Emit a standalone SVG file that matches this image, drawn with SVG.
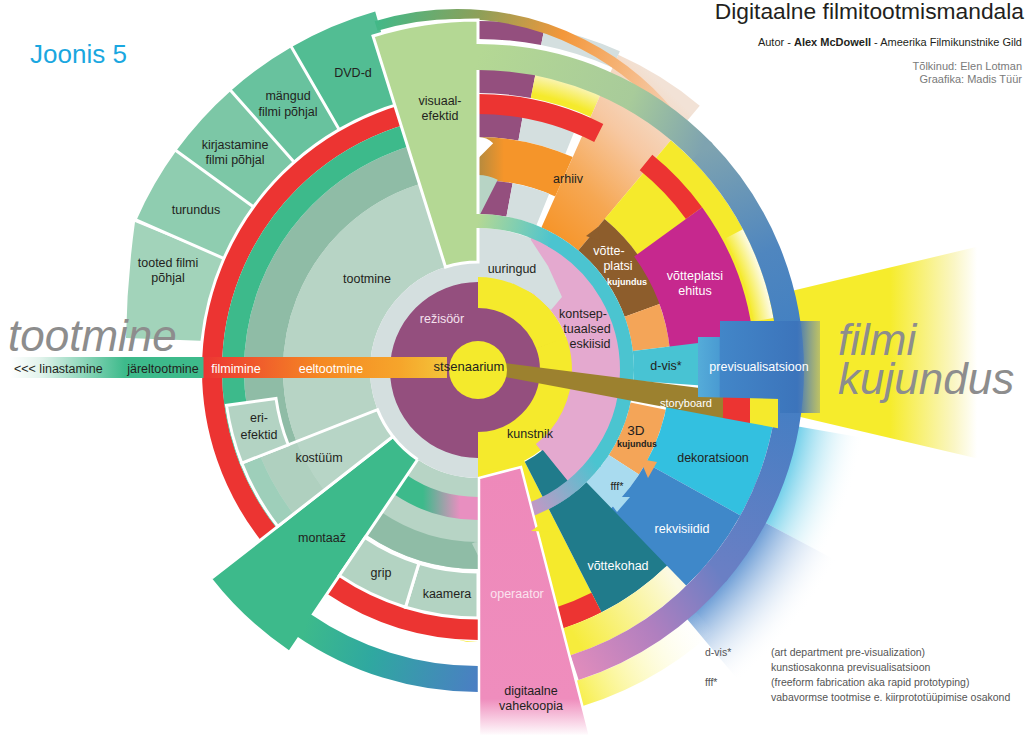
<svg xmlns="http://www.w3.org/2000/svg" width="1035" height="736" viewBox="0 0 1035 736">
<defs>
<style>
text{font-family:"Liberation Sans",Arial,Helvetica,sans-serif;font-size:12.5px;fill:#231f20;text-anchor:middle}
.k{fill:none}
.wl{stroke:#fff;stroke-width:3;fill:none}
.bd{stroke:#fff;stroke-width:3}
.wt{fill:#fff}
.big{font-size:44px;font-style:italic;fill:#8d8d8d;text-anchor:start}
.lg{font-size:10.5px;fill:#555;text-anchor:start}
.cr{font-size:11px;fill:#7a7a7a;text-anchor:end}
.sm{font-size:9px;font-weight:bold}
</style>
<linearGradient id="gYw" gradientUnits="userSpaceOnUse" x1="745" y1="0" x2="1035" y2="0">
<stop offset="0" stop-color="#f6ec2c"/><stop offset="0.5" stop-color="#f6ec2c"/><stop offset="0.72" stop-color="#faf6c4"/><stop offset="0.8" stop-color="#fff"/>
</linearGradient>
<radialGradient id="gFadeC" gradientUnits="userSpaceOnUse" cx="0" cy="0" r="400">
<stop offset="0.79" stop-color="#49c2e4"/><stop offset="0.98" stop-color="#fff" stop-opacity="0"/>
</radialGradient>
<radialGradient id="gFadeB" gradientUnits="userSpaceOnUse" cx="0" cy="0" r="410">
<stop offset="0.77" stop-color="#4a86cc"/><stop offset="0.99" stop-color="#fff" stop-opacity="0"/>
</radialGradient>
<linearGradient id="gArh" gradientUnits="userSpaceOnUse" x1="70" y1="-140" x2="200" y2="-270">
<stop offset="0" stop-color="#f6952a"/><stop offset="0.3" stop-color="#f6a752"/><stop offset="0.65" stop-color="#f7c8a2"/><stop offset="1" stop-color="#f2e2d6"/>
</linearGradient>
<linearGradient id="gSp" gradientUnits="userSpaceOnUse" x1="-105" y1="-357" x2="212" y2="-243">
<stop offset="0" stop-color="#3dba8b"/><stop offset="0.3" stop-color="#8e9f58"/><stop offset="0.55" stop-color="#f3973a"/><stop offset="0.8" stop-color="#f6bb88"/><stop offset="1" stop-color="#f2d9c6"/>
</linearGradient>
<linearGradient id="gOr" gradientUnits="userSpaceOnUse" x1="0" y1="0" x2="26" y2="0">
<stop offset="0" stop-color="#b48a3e"/><stop offset="1" stop-color="#f5952a"/>
</linearGradient>
<radialGradient id="gY2" gradientUnits="userSpaceOnUse" cx="0" cy="0" r="306">
<stop offset="0.92" stop-color="#f5ea2c"/><stop offset="1" stop-color="#fbf7d8"/>
</radialGradient>
<radialGradient id="gYF" gradientUnits="userSpaceOnUse" cx="0" cy="0" r="300">
<stop offset="0.93" stop-color="#f5ea2c"/><stop offset="1" stop-color="#fdfbe8"/>
</radialGradient>
<linearGradient id="gB1" gradientUnits="userSpaceOnUse" x1="0" y1="-313" x2="223" y2="-219">
<stop offset="0" stop-color="#b4d894"/><stop offset="0.65" stop-color="#a8cb9a"/><stop offset="1" stop-color="#7ea3b0"/>
</linearGradient>
<linearGradient id="gB2" gradientUnits="userSpaceOnUse" x1="223" y1="-219" x2="313" y2="0">
<stop offset="0" stop-color="#7ea3b0"/><stop offset="0.5" stop-color="#4f86bf"/><stop offset="1" stop-color="#3e7ec3"/>
</linearGradient>
<linearGradient id="gB3" gradientUnits="userSpaceOnUse" x1="313" y1="0" x2="240" y2="201">
<stop offset="0" stop-color="#3e7ec3"/><stop offset="1" stop-color="#6a7fc4"/>
</linearGradient>
<linearGradient id="gB4" gradientUnits="userSpaceOnUse" x1="240" y1="201" x2="97" y2="298">
<stop offset="0" stop-color="#6a7fc4"/><stop offset="0.5" stop-color="#b07fbf"/><stop offset="1" stop-color="#e08cbc"/>
</linearGradient>
<linearGradient id="gB5" gradientUnits="userSpaceOnUse" x1="0" y1="309" x2="-173" y2="256">
<stop offset="0" stop-color="#4a7fc3"/><stop offset="0.6" stop-color="#2fa8a0"/><stop offset="1" stop-color="#3dba8b"/>
</linearGradient>
<linearGradient id="gC1" gradientUnits="userSpaceOnUse" x1="0" y1="-149" x2="75" y2="-129">
<stop offset="0" stop-color="#b4d894"/><stop offset="1" stop-color="#4bc4d0"/>
</linearGradient>
<linearGradient id="gC3" gradientUnits="userSpaceOnUse" x1="117" y1="92" x2="41" y2="143">
<stop offset="0" stop-color="#4bc4d0"/><stop offset="1" stop-color="#d890c3"/>
</linearGradient>
<linearGradient id="gBP" gradientUnits="userSpaceOnUse" x1="-55" y1="0" x2="-18" y2="0">
<stop offset="0" stop-color="#3dba8b"/><stop offset="1" stop-color="#e88fc0"/>
</linearGradient>
<linearGradient id="gLY" gradientUnits="userSpaceOnUse" x1="98" y1="269" x2="195" y2="209">
<stop offset="0" stop-color="#f6ec3c"/><stop offset="1" stop-color="#fcfae2"/>
</linearGradient>
<linearGradient id="gYO" gradientUnits="userSpaceOnUse" x1="85" y1="325" x2="230" y2="250">
<stop offset="0" stop-color="#f6ec2c"/><stop offset="1" stop-color="#fff" stop-opacity="0"/>
</linearGradient>
<linearGradient id="gBar" gradientUnits="userSpaceOnUse" x1="10" y1="0" x2="447" y2="0">
<stop offset="0" stop-color="#fff"/><stop offset="0.069" stop-color="#e2f3ec"/><stop offset="0.263" stop-color="#3dba8b"/><stop offset="0.4416" stop-color="#3dba8b"/><stop offset="0.4439" stop-color="#ec3533"/><stop offset="0.5606" stop-color="#f05a2c"/><stop offset="0.7094" stop-color="#f58823"/><stop offset="0.8924" stop-color="#f6a52b"/><stop offset="1" stop-color="#f3c53a"/>
</linearGradient>
<linearGradient id="gPrev" gradientUnits="userSpaceOnUse" x1="698" y1="0" x2="822" y2="0">
<stop offset="0" stop-color="#55acd9"/><stop offset="0.17" stop-color="#4a9bd2"/><stop offset="0.18" stop-color="#4286c8"/><stop offset="0.8" stop-color="#3c74bb"/><stop offset="1" stop-color="#7d90a6" stop-opacity="0.4"/>
</linearGradient>
<linearGradient id="gOp" gradientUnits="userSpaceOnUse" x1="0" y1="470" x2="0" y2="736">
<stop offset="0" stop-color="#ee89ba"/><stop offset="0.86" stop-color="#ef8dbd"/><stop offset="1" stop-color="#fff"/>
</linearGradient>
</defs>

<rect width="1035" height="736" fill="#fff"/>

<!-- wide yellow fan behind the design sector -->
<g id="filmi-kujundus-fan"><polygon points="745,302 1035,233 1035,472 745,404" fill="url(#gYw)"/></g>

<!-- all ring sectors: circles dashed with pathLength=360, so dash = degrees -->
<g id="mandala" transform="translate(478,370)">
 <g id="fade-out">
  <circle class="k" pathLength="360" r="356.5" stroke-width="77" stroke="url(#gFadeC)" stroke-dasharray="18 342" stroke-dashoffset="-10"/>
  <circle class="k" pathLength="360" r="364" stroke-width="92" stroke="url(#gFadeB)" stroke-dasharray="22 338" stroke-dashoffset="-28"/>
 </g>

 <g id="tooted-filmi-pohjal"><path d="M-255.5,-112.1L-343,-148Q-351,-90 -352,-32L-277.5,-29.2A279,279 0 0 1 -255.5,-112.1Z" fill="#a2d3ba"/></g>
 <g id="turundus"><circle class="k" pathLength="360" r="326" stroke-width="94" stroke="#8fcdb0" stroke-dasharray="12.3 347.7" stroke-dashoffset="-203.7"/></g>
 <g id="kirjastamine"><circle class="k" pathLength="360" r="326" stroke-width="94" stroke="#7cc7a6" stroke-dasharray="12.5 347.5" stroke-dashoffset="-216"/></g>
 <g id="mangud"><circle class="k" pathLength="360" r="326" stroke-width="94" stroke="#68c29e" stroke-dasharray="11.5 348.5" stroke-dashoffset="-228.5"/></g>
 <g id="dvd-d"><circle class="k" pathLength="360" r="326" stroke-width="94" stroke="#52bd93" stroke-dasharray="14 346" stroke-dashoffset="-240"/></g>
 <path class="wl" d="M-252.7,-110.9L-344.3,-151.1M-223.3,-162.2L-304.2,-221M-182.9,-206.7L-249.1,-281.6M-138,-239L-188,-325.6"/>

 <g id="timeline-bars">
  <circle class="k" pathLength="360" r="340" stroke-width="18" stroke="#944f7e" stroke-dasharray="11 349" stroke-dashoffset="90"/>
  <circle class="k" pathLength="360" r="340" stroke-width="18" stroke="#d4dfdf" stroke-dasharray="13 347" stroke-dashoffset="79"/>
  <circle class="k" pathLength="360" r="291.5" stroke-width="29" stroke="#944f7e" stroke-dasharray="11 349" stroke-dashoffset="90"/>
  <circle class="k" pathLength="360" r="291.5" stroke-width="29" stroke="url(#gY2)" stroke-dasharray="13 347" stroke-dashoffset="79"/>
  <circle class="k" pathLength="360" r="245" stroke-width="24" stroke="#944f7e" stroke-dasharray="10 350" stroke-dashoffset="90"/>
  <circle class="k" pathLength="360" r="245" stroke-width="24" stroke="#d4dfdf" stroke-dasharray="12 348" stroke-dashoffset="80"/>
  <circle class="k" pathLength="360" r="211.5" stroke-width="43" stroke="url(#gOr)" stroke-dasharray="24 336" stroke-dashoffset="90"/>
  <circle class="k" pathLength="360" r="173" stroke-width="34" stroke="#944f7e" stroke-dasharray="10.5 349.5" stroke-dashoffset="90"/>
  <circle class="k" pathLength="360" r="173" stroke-width="34" stroke="#d4dfdf" stroke-dasharray="11.5 348.5" stroke-dashoffset="79.5"/>
 </g>

 <g id="arhiiv"><circle class="k" pathLength="360" r="250.5" stroke-width="189" stroke="url(#gArh)" stroke-dasharray="16 344" stroke-dashoffset="66"/></g>
 <g id="archive-stream"><circle class="k" pathLength="360" cx="-21" cy="-79" r="277" stroke-width="10" stroke="url(#gSp)" stroke-dasharray="71 289" stroke-dashoffset="107"/></g>

 <g id="set-zone">
  <circle class="k" pathLength="360" r="248.5" stroke-width="103" stroke="#f5ea2c" stroke-dasharray="42 318" stroke-dashoffset="50"/>
  <circle class="k" pathLength="360" r="290" stroke-width="20" stroke="url(#gYF)" stroke-dasharray="18 342" stroke-dashoffset="28"/>
 </g>

 <g id="filmimine-ring">
  <circle class="k" pathLength="360" r="266" stroke-width="20" stroke="#ec3432" stroke-dasharray="155 205" stroke-dashoffset="-142"/>
  <circle class="k" pathLength="360" r="267" stroke-width="20" stroke="#ec3432" stroke-dasharray="15 345" stroke-dashoffset="51"/>
  <circle class="k" pathLength="360" r="259" stroke-width="22" stroke="#ec3432" stroke-dasharray="34 326" stroke-dashoffset="-90"/>
 </g>

 <g id="tootmine">
  <circle class="k" pathLength="360" r="151.5" stroke-width="87" stroke="#b7d4c5" stroke-dasharray="146 214" stroke-dashoffset="-124"/>
  <circle class="k" pathLength="360" r="214.5" stroke-width="39" stroke="#8fbca6" stroke-dasharray="146 214" stroke-dashoffset="-124"/>
  <circle class="k" pathLength="360" r="245" stroke-width="22" stroke="#3dba8b" stroke-dasharray="146 214" stroke-dashoffset="-124"/>
  <circle class="k" pathLength="360" r="153.5" stroke-width="91" stroke="#b7d4c5" stroke-dasharray="34 326" stroke-dashoffset="-90"/>
  <circle class="k" pathLength="360" r="185.5" stroke-width="27" stroke="#8fbca6" stroke-dasharray="34 326" stroke-dashoffset="-90"/>
  <circle class="k" pathLength="360" r="138.5" stroke-width="23" stroke="url(#gBP)" stroke-dasharray="34 326" stroke-dashoffset="-90"/>
 </g>

 <g id="rezissoor"><circle r="91" fill="#944f7e"/></g>
 <g id="kunstnik">
  <circle class="k" pathLength="360" r="78" stroke-width="32" stroke="#f5ea2c" stroke-dasharray="70 290" stroke-dashoffset="90"/>
  <circle class="k" pathLength="360" r="82" stroke-width="40" stroke="#f5ea2c" stroke-dasharray="110.5 249.5" stroke-dashoffset="20.5"/>
  <circle class="k" pathLength="360" r="186" stroke-width="172" stroke="#f5ea2c" stroke-dasharray="27 333" stroke-dashoffset="-63"/>
 </g>
 <g id="kontseptuaalsed-eskiisid"><circle class="k" pathLength="360" r="118.5" stroke-width="49" stroke="#e4a9cf" stroke-dasharray="121 239" stroke-dashoffset="69"/></g>
 <g id="uuringud">
  <circle class="k" pathLength="360" r="98" stroke-width="20" stroke="#d4dfdf" stroke-dasharray="180 180" stroke-dashoffset="-90"/>
  <circle class="k" pathLength="360" r="117.5" stroke-width="49" stroke="#d4dfdf" stroke-dasharray="22 338" stroke-dashoffset="90"/>
  <polygon points="34,-87 44,-131 51,-133 70,-104 84,-73 73,-60 56,-76" fill="#d4dfdf"/>
 </g>

 <g id="votteplatsi-kujundus"><circle class="k" pathLength="360" r="176.5" stroke-width="41" stroke="#8d5d2c" stroke-dasharray="30 330" stroke-dashoffset="50"/></g>
 <g id="set-model"><circle class="k" pathLength="360" r="174.5" stroke-width="37" stroke="#f4a558" stroke-dasharray="13 347" stroke-dashoffset="20"/></g>
 <g id="votteplatsi-ehitus"><circle class="k" pathLength="360" r="235" stroke-width="84" stroke="#c6288e" stroke-dasharray="30 330" stroke-dashoffset="36"/></g>
 <g id="d-vis"><circle class="k" pathLength="360" r="190" stroke-width="68" stroke="#48c3d3" stroke-dasharray="11 349" stroke-dashoffset="7"/></g>
 <g id="kujundus-3d"><circle class="k" pathLength="360" r="174" stroke-width="36" stroke="#f4a558" stroke-dasharray="21 339" stroke-dashoffset="-12"/></g>
 <g id="fff"><circle class="k" pathLength="360" r="174" stroke-width="36" stroke="#a9dbef" stroke-dasharray="14 346" stroke-dashoffset="-33"/></g>
 <g id="dekoratsioon"><circle class="k" pathLength="360" r="246" stroke-width="108" stroke="#33c0e0" stroke-dasharray="20 340" stroke-dashoffset="-9"/></g>
 <g id="rekvisiidid"><circle class="k" pathLength="360" r="246" stroke-width="108" stroke="#3f88c9" stroke-dasharray="17.5 342.5" stroke-dashoffset="-29"/></g>
 <g id="vottekohad">
  <circle class="k" pathLength="360" r="214" stroke-width="116" stroke="#207b8b" stroke-dasharray="17 343" stroke-dashoffset="-46"/>
  <circle class="k" pathLength="360" r="129.5" stroke-width="53" stroke="#207b8b" stroke-dasharray="12 348" stroke-dashoffset="-51"/>
 </g>
 <g id="lower-rim">
  <circle class="k" pathLength="360" r="261" stroke-width="22" stroke="#ec3432" stroke-dasharray="9 351" stroke-dashoffset="-63"/>
  <circle class="k" pathLength="360" r="286" stroke-width="28" stroke="url(#gLY)" stroke-dasharray="30 330" stroke-dashoffset="-46"/>
  <circle class="k" pathLength="360" r="339" stroke-width="26" stroke="url(#gYO)" stroke-dasharray="28 332" stroke-dashoffset="-48"/>
 </g>

 <g id="montaaz">
  <path d="M-60.4,89.5L-189,280.2A338,338 0 0 1 -266.3,208.1L-85.1,66.5A108,108 0 0 0 -60.4,89.5Z" fill="#3dba8b"/>
  <path class="wl" d="M-85.1,66.5L-266.3,208.1M-60.4,89.5L-166.6,247M-85.1,66.5A108,108 0 0 0 -60.4,89.5"/>
 </g>
 <g id="kostyym"><path class="bd" d="M-85.1,66.5L-200.2,156.4A254,254 0 0 1 -236.3,93.1L-100.5,39.6A108,108 0 0 0 -85.1,66.5Z" fill="#b6d5c5" fill-opacity="0.8"/></g>
 <g id="eri-efektid"><path class="bd" d="M-189.8,74.8L-236.3,93.1A254,254 0 0 1 -251.5,35.4L-202,28.4A204,204 0 0 0 -189.8,74.8Z" fill="#b3d3c3"/></g>
 <g id="kaamera"><path class="bd" d="M0,202L0,248A248,248 0 0 1 -72.5,237.2L-59.1,193.2A202,202 0 0 0 0,202Z" fill="#b3d3c2"/></g>
 <g id="grip"><path class="bd" d="M-59.1,193.2L-72.5,237.2A248,248 0 0 1 -138.7,205.6L-113,167.5A202,202 0 0 0 -59.1,193.2Z" fill="#b3d3c2"/></g>
 <g id="visuaalefektid"><path class="bd" d="M-32.5,-103L-105,-334A350,350 0 0 1 0,-350L0,-108A108,108 0 0 0 -32.5,-103Z" fill="#b4d894"/></g>

 <g id="connectors">
  <circle class="k" pathLength="360" r="313" stroke-width="26" stroke="url(#gB1)" stroke-dasharray="47 313" stroke-dashoffset="91"/>
  <circle class="k" pathLength="360" r="313" stroke-width="26" stroke="url(#gB2)" stroke-dasharray="45 315" stroke-dashoffset="44.5"/>
  <circle class="k" pathLength="360" r="313" stroke-width="26" stroke="url(#gB3)" stroke-dasharray="40.5 319.5" stroke-dashoffset="0"/>
  <circle class="k" pathLength="360" r="313" stroke-width="26" stroke="url(#gB4)" stroke-dasharray="32 328" stroke-dashoffset="-40"/>
  <circle class="k" pathLength="360" r="309" stroke-width="26" stroke="url(#gB5)" stroke-dasharray="34.5 325.5" stroke-dashoffset="-90"/>
  <circle class="k" pathLength="360" r="149" stroke-width="14" stroke="url(#gC1)" stroke-dasharray="31 329" stroke-dashoffset="91"/>
  <circle class="k" pathLength="360" r="149" stroke-width="14" stroke="#4bc4d0" stroke-dasharray="99 261" stroke-dashoffset="60.5"/>
  <circle class="k" pathLength="360" r="149" stroke-width="14" stroke="url(#gC3)" stroke-dasharray="36 324" stroke-dashoffset="-38"/>
 </g>
</g>

<g id="operaator"><polygon points="479,478 521,467 590,736 479,736" fill="url(#gOp)" stroke="#fff" stroke-width="2.5"/></g>
<!-- small arrow tips where departments hand over -->
<g id="arrow-tips">
 <polygon points="531,531 551,517 557,532" fill="#f5ea2c"/>
 <polygon points="606,497 630,497 617,512" fill="#a9dbef"/>
 <polygon points="640,459 657,462 648,478" fill="#f4a558"/>
 <polygon points="598,227 586,236 600,241" fill="#8d5d2c"/>
</g>
<g id="storyboard">
 <polygon points="505,363 723,391.1 723,417.9 505,377" fill="#9c812f"/>
 <polygon points="723,391.1 750,394.6 750,422.9 723,417.9" fill="#ec3432"/>
 <polygon points="750,394.6 778,398.2 778,428.2 750,422.9" fill="#f5ea2c"/>
</g>
<g id="previsualisatsioon"><polygon points="698,337 720,337 720,321 820,321 820,413 780,413 780,399 698,397" fill="url(#gPrev)"/></g>
<g id="timeline-bar"><rect x="10" y="357" width="437" height="21" fill="url(#gBar)"/></g>
<g id="stsenaarium"><circle cx="478" cy="370" r="29" fill="#f4ea2c"/></g>

<g id="labels">
 <text x="353" y="77">DVD-d</text>
 <text x="288" y="100">mängud</text><text x="288" y="116">filmi põhjal</text>
 <text x="235" y="149">kirjastamine</text><text x="235" y="164">filmi põhjal</text>
 <text x="196" y="214">turundus</text>
 <text x="168" y="267">tooted filmi</text><text x="168" y="282">põhjal</text>
 <text x="367" y="283">tootmine</text>
 <text x="440" y="105">visuaal-</text><text x="440" y="120">efektid</text>
 <text x="568" y="183">arhiiv</text>
 <text x="512" y="273">uuringud</text>
 <text x="442" y="323" style="fill:#f4e2ee">režisöör</text>
 <text x="583" y="318">kontsep-</text><text x="587" y="333">tuaalsed</text><text x="590" y="348">eskiisid</text>
 <text class="wt" x="609" y="255">võtte-</text><text class="wt" x="618" y="270">platsi</text><text class="wt sm" x="627" y="285">kujundus</text>
 <text class="wt" x="695" y="280">võtteplatsi</text><text class="wt" x="695" y="295">ehitus</text>
 <text x="666" y="370">d-vis*</text>
 <text class="wt" x="759" y="371">previsualisatsioon</text>
 <text x="469" y="371" style="font-size:13px">stsenaarium</text>
 <text class="wt" x="686" y="407" style="font-size:11px">storyboard</text>
 <text x="636" y="435" style="font-size:13.5px">3D</text><text class="sm" x="637" y="447">kujundus</text>
 <text x="713" y="462">dekoratsioon</text>
 <text x="617" y="490" style="font-size:11px">fff*</text>
 <text class="wt" x="682" y="533">rekvisiidid</text>
 <text class="wt" x="618" y="570">võttekohad</text>
 <text x="530" y="438">kunstnik</text>
 <text x="517" y="598" style="fill:#fbe3ef">operaator</text>
 <text x="531" y="695">digitaalne</text><text x="531" y="710">vahekoopia</text>
 <text x="322" y="542">montaaž</text>
 <text x="381" y="577">grip</text>
 <text x="447" y="598">kaamera</text>
 <text x="319" y="462">kostüüm</text>
 <text x="259" y="422">eri-</text><text x="259" y="439">efektid</text>
 <text x="14" y="373" style="text-anchor:start">&lt;&lt;&lt; linastamine</text>
 <text x="163" y="373">järeltootmine</text>
 <text class="wt" x="236" y="373">filmimine</text>
 <text class="wt" x="331" y="373">eeltootmine</text>
</g>

<g id="headings">
 <text class="big" x="8" y="351">tootmine</text>
 <text class="big" x="838" y="355">filmi</text>
 <text class="big" x="838" y="394">kujundus</text>
 <text x="30" y="63" style="font-size:26px;fill:#1aa7e0;text-anchor:start">Joonis 5</text>
 <text x="1024" y="19" style="font-size:22.8px;text-anchor:end">Digitaalne filmitootmismandala</text>
 <text x="1022" y="46" style="font-size:11px;text-anchor:end">Autor - <tspan font-weight="bold">Alex McDowell</tspan> - Ameerika Filmikunstnike Gild</text>
 <text class="cr" x="1022" y="70">Tõlkinud: Elen Lotman</text>
 <text class="cr" x="1022" y="83">Graafika: Madis Tüür</text>
</g>

<g id="legend">
 <text class="lg" x="705" y="656">d-vis*</text>
 <text class="lg" x="771" y="656">(art department pre-visualization)</text>
 <text class="lg" x="771" y="671">kunstiosakonna previsualisatsioon</text>
 <text class="lg" x="705" y="686">fff*</text>
 <text class="lg" x="771" y="686">(freeform fabrication aka rapid prototyping)</text>
 <text class="lg" x="771" y="701">vabavormse tootmise e. kiirprototüüpimise osakond</text>
</g>
</svg>
